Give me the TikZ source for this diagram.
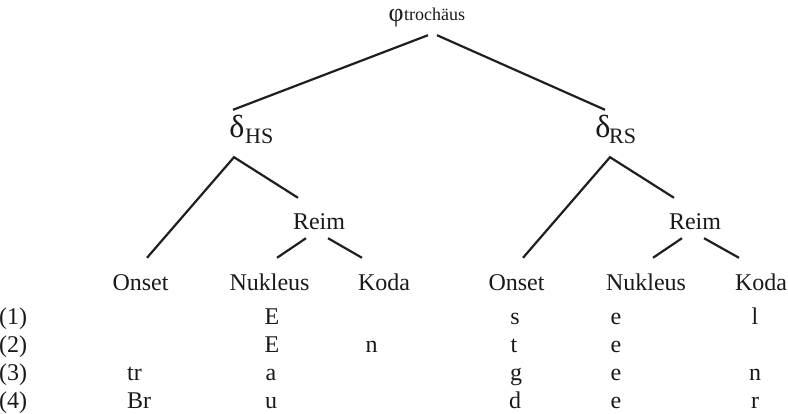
\documentclass[tikz,border=0pt]{standalone}
\usepackage{fontspec}
\setmainfont{Liberation Serif}
\usetikzlibrary{calc}
\begin{document}
\begin{tikzpicture}[x=1pt,y=-1pt,
  lbl/.style={font=\fontsize{24}{28}\selectfont, inner sep=0pt, anchor=base, text height=16pt, text depth=0pt, text=black!90},
  greek/.style={font=\fontsize{32}{36}\selectfont, inner sep=0pt, anchor=base, text height=24pt, text depth=0pt, text=black!90},
  subs/.style={font=\fontsize{22}{24}\selectfont, inner sep=0pt, anchor=base west, text=black!90},
  treeedge/.style={line width=2.2pt, draw=black!88}]
\useasboundingbox (0,0) rectangle (788,413);
% top
\node[greek, font=\fontsize{26}{28}\selectfont, text height=15pt, text depth=5pt] (phi) at (396,21) {φ};
\node[subs, font=\fontsize{18}{20}\selectfont] (phisub) at ($(phi.base)+(8,-1)$) {trochäus};
% feet
\node[greek] (dHS) at (237,137) {δ};
\node[subs] (dHSsub) at ($(dHS.base)+(8,6)$) {HS};
\node[greek] (dRS) at (603,137) {δ};
\node[subs] (dRSsub) at ($(dRS.base)+(6,6)$) {RS};
% rhymes
\node[lbl] (reimL) at (319,229) {Reim};
\node[lbl] (reimR) at (695,229) {Reim};
% terminals
\node[lbl] (onsL) at (140.5,290) {Onset};
\node[lbl] (nukL) at (269.5,290) {Nukleus};
\node[lbl] (kodL) at (384,290) {Koda};
\node[lbl] (onsR) at (516.5,290) {Onset};
\node[lbl] (nukR) at (646,290) {Nukleus};
\node[lbl] (kodR) at (761,290) {Koda};
% edges
\draw[treeedge] ($(phi.south)+(32,9)$) -- ($(dHS.north)+(-4,-3)$);
\draw[treeedge] ($(phi.south)+(41,9)$) -- ($(dRS.north)+(2,-3)$);
\draw[treeedge] ($(onsL.north)+(6.5,-16)$) -- ($(dHS.south)+(-3,20)$) -- ($(reimL.north)+(-21,-15)$);
\draw[treeedge] ($(reimL.south)+(-13,9)$) -- ($(nukL.north)+(7.5,-16)$);
\draw[treeedge] ($(reimL.south)+(9,9)$) -- ($(kodL.north)+(-22,-16)$);
\draw[treeedge] ($(onsR.north)+(6.5,-16)$) -- ($(dRS.south)+(7,20)$) -- ($(reimR.north)+(-21,-15)$);
\draw[treeedge] ($(reimR.south)+(-13,9)$) -- ($(nukR.north)+(7,-16)$);
\draw[treeedge] ($(reimR.south)+(9,9)$) -- ($(kodR.north)+(-22,-16)$);
% example rows
\node[lbl, anchor=base west] (ex1) at (-1,324) {(1)};
\node[lbl, anchor=base west] (ex2) at (-1,352) {(2)};
\node[lbl, anchor=base west] (ex3) at (-1,380) {(3)};
\node[lbl, anchor=base west] (ex4) at (-1,408) {(4)};
% row 1
\node[lbl] (r1nL) at (272,324) {E};
\node[lbl] (r1oR) at (515,324) {s};
\node[lbl] (r1nR) at (616,324) {e};
\node[lbl] (r1kR) at (755,324) {l};
% row 2
\node[lbl] (r2nL) at (272,352) {E};
\node[lbl] (r2kL) at (371.5,352) {n};
\node[lbl] (r2oR) at (514,352) {t};
\node[lbl] (r2nR) at (616,352) {e};
% row 3
\node[lbl] (r3oL) at (134.5,380) {tr};
\node[lbl] (r3nL) at (271,380) {a};
\node[lbl] (r3oR) at (516,380) {g};
\node[lbl] (r3nR) at (616,380) {e};
\node[lbl] (r3kR) at (755,380) {n};
% row 4
\node[lbl] (r4oL) at (139,408) {Br};
\node[lbl] (r4nL) at (271,408) {u};
\node[lbl] (r4oR) at (515,408) {d};
\node[lbl] (r4nR) at (616,408) {e};
\node[lbl] (r4kR) at (755,408) {r};
\end{tikzpicture}
\end{document}
